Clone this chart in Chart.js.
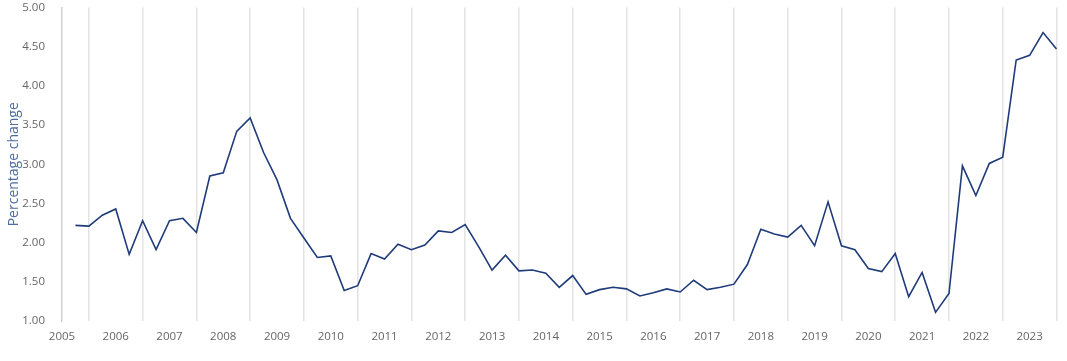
<!DOCTYPE html>
<html>
<head>
<meta charset="utf-8">
<script src="https://cdn.jsdelivr.net/npm/chart.js@4/dist/chart.umd.min.js"></script>
<style>
  html, body { margin: 0; padding: 0; background: #fff; }
  #wrap { width: 1067px; height: 361px; position: relative; }
</style>
</head>
<body>
<div id="wrap"><canvas id="chart"></canvas></div>
<script>
/* ── Data ─────────────────────────────────────────────── */
const years    = [2005, 2006, 2007, 2008, 2009, 2010, 2011, 2012, 2013, 2014,
                  2015, 2016, 2017, 2018, 2019, 2020, 2021, 2022, 2023];
const quarters = ['Q1', 'Q2', 'Q3', 'Q4'];

// quarterly percentage change, 2005 Q2 .. 2023 Q3
const values = [
        2.22, 2.21, 2.35,   // 2005
  2.43, 1.85, 2.28, 1.91,   // 2006
  2.28, 2.31, 2.13, 2.85,   // 2007
  2.89, 3.42, 3.59, 3.15,   // 2008
  2.80, 2.31, 2.06, 1.81,   // 2009
  1.83, 1.39, 1.45, 1.86,   // 2010
  1.79, 1.98, 1.91, 1.97,   // 2011
  2.15, 2.13, 2.23, 1.95,   // 2012
  1.65, 1.84, 1.64, 1.65,   // 2013
  1.61, 1.43, 1.58, 1.34,   // 2014
  1.40, 1.43, 1.41, 1.32,   // 2015
  1.36, 1.41, 1.37, 1.52,   // 2016
  1.40, 1.43, 1.47, 1.72,   // 2017
  2.17, 2.11, 2.07, 2.22,   // 2018
  1.96, 2.52, 1.96, 1.91,   // 2019
  1.67, 1.63, 1.86, 1.31,   // 2020
  1.62, 1.11, 1.35, 2.98,   // 2021
  2.60, 3.01, 3.09, 4.33,   // 2022
  4.39, 4.68, 4.47          // 2023
];

const yTicks = { min: 1, max: 5, step: 0.5 };

/* ── Build labels (2005 Q1 .. 2023 Q3) ─────────────────── */
const labels = [];
for (const y of years) for (const q of quarters) labels.push(`${y} ${q}`);
labels.length = values.length + 1;
const series = [null, ...values];

const TICK_COLOR = '#666666';
const FONT = '"Open Sans", "Noto Sans", sans-serif';

new Chart(document.getElementById('chart'), {
  type: 'line',
  data: {
    labels,
    datasets: [{
      label: 'Percentage change',
      data: series,
      borderColor: '#1f3b7a',
      borderWidth: 1.6,
      pointRadius: 0,
      tension: 0,
      spanGaps: false,
    }],
  },
  options: {
    responsive: true,
    maintainAspectRatio: false,
    animation: false,
    layout: { autoPadding: false, padding: { top: 0, right: 10.5, left: 0, bottom: 0 } },
    plugins: {
      legend:  { display: false },
      tooltip: { enabled: false },
    },
    scales: {
      x: {
        type: 'category',
        offset: false,
        border: { display: false },
        grid: {
          drawTicks: false,
          lineWidth: 1.5,
          color: ctx => (ctx.index % 4 === 2 ? '#e3e3e3' : 'rgba(0,0,0,0)'),
        },
        ticks: {
          autoSkip: false,
          maxRotation: 0,
          minRotation: 0,
          padding: 9,
          color: TICK_COLOR,
          font: { family: FONT, size: 11.5 },
          callback: function (val) {
            const lbl = this.getLabelForValue(val);
            return lbl.endsWith('Q1') ? lbl.slice(0, 4) : '';
          },
        },
        afterFit: s => { s.height = 40; },
      },
      y: {
        min: yTicks.min,
        max: yTicks.max,
        grid: { display: false },
        border: { display: true, color: '#cfcfcf', width: 1.5 },
        ticks: {
          stepSize: yTicks.step,
          padding: 9,
          color: TICK_COLOR,
          font: { family: FONT, size: 11.5 },
          callback: v => Number(v).toFixed(2),
        },
        title: {
          display: true,
          text: 'Percentage change',
          color: '#4e6c9e',
          font: { family: FONT, size: 14 },
          padding: { top: 6, bottom: 0 },
        },
        afterFit: s => { s.width = 62; s.paddingTop = 7.5; s.paddingBottom = 0; },
      },
    },
  },
});
</script>
</body>
</html>
